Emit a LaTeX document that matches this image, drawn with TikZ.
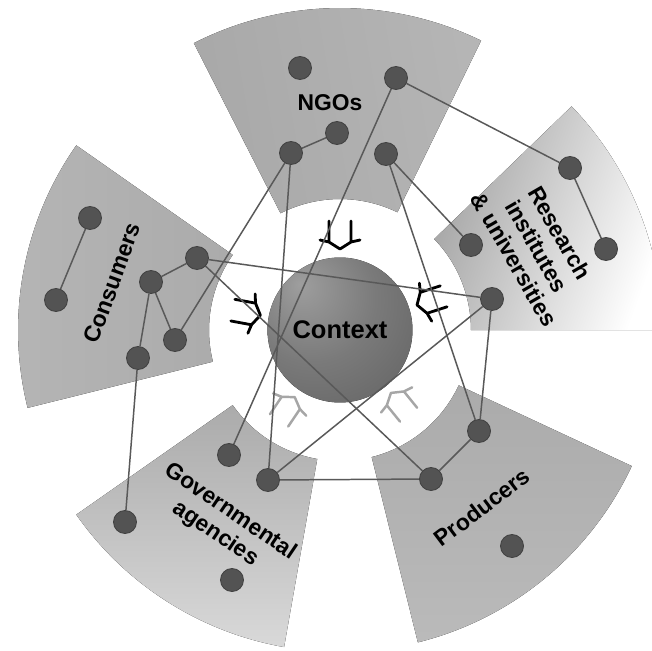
\documentclass[tikz,border=0pt]{standalone}
\usepackage{fontspec}
\setmainfont{Liberation Sans}
\usetikzlibrary{calc}
\usetikzlibrary{positioning}

\definecolor{dotgray}{HTML}{535353}
\definecolor{tiegray}{HTML}{595959}
\definecolor{ballhi}{HTML}{9E9E9E}
\definecolor{ballmid}{HTML}{7A7A7A}
\definecolor{balllow}{HTML}{5C5C5C}
\pgfdeclareradialshading{ctxball}{\pgfpoint{-14bp}{16bp}}{color(0bp)=(ballhi); color(22bp)=(ballmid); color(50bp)=(balllow); color(70bp)=(balllow)}
\pgfdeclarelayer{back}
\pgfdeclarelayer{mid}
\pgfsetlayers{back,mid,main}

\tikzset{
    actor/.style={circle, fill=dotgray, draw=dotgray!80!black, line width=0.5pt, minimum size=0.46cm, inner sep=0pt},
    tie/.style={draw=tiegray, line width=0.85pt},
    group/.style={font=\fontsize{13}{15}\selectfont\bfseries, align=center, inner sep=0pt},
    influence/.pic={
        \draw[line cap=round, line join=round] (-11,14) -- (-11,-7) (11,14) -- (11,-7)
            (-20,-5) -- (-11,-7) -- (0,-14) -- (11,-7) -- (20,-5);
    }
}

\begin{document}
\begin{tikzpicture}[x=0.02cm, y=0.02cm]
    \useasboundingbox (0,0) rectangle (652,650);
    \coordinate (O) at (340,320);

    \begin{pgfonlayer}{back}
    \fill[left color=gray!68, right color=gray!58, shading angle=100] ($(O)+(64:2.62cm)$) arc[start angle=64, end angle=117, radius=2.62cm] -- ($(O)+(117:6.44cm)$) arc[start angle=117, end angle=64, radius=6.44cm] -- cycle;
    \fill[left color=gray!72, right color=white, shading angle=70] ($(O)+(0:2.62cm)$) arc[start angle=0, end angle=44, radius=2.62cm] -- ($(O)+(44:6.44cm)$) arc[start angle=44, end angle=0, radius=6.44cm] -- cycle;
    \fill[left color=gray!58, right color=gray!66] ($(O)+(145:2.62cm)$) arc[start angle=145, end angle=194, radius=2.62cm] -- ($(O)+(194:6.44cm)$) arc[start angle=194, end angle=145, radius=6.44cm] -- cycle;
    \fill[top color=gray!66, bottom color=gray!30] ($(O)+(215:2.62cm)$) arc[start angle=215, end angle=260, radius=2.62cm] -- ($(O)+(260:6.44cm)$) arc[start angle=260, end angle=215, radius=6.44cm] -- cycle;
    \fill[top color=gray!66, bottom color=gray!54] ($(O)+(284:2.62cm)$) arc[start angle=284, end angle=335, radius=2.62cm] -- ($(O)+(335:6.44cm)$) arc[start angle=335, end angle=284, radius=6.44cm] -- cycle;

    \fill[shading=ctxball] (O) circle[radius=1.45cm];

    \pic[black, line width=1.6pt, rotate=0] at ($(O)+(90:1.9cm)$) {influence};
    \pic[black, line width=1.6pt, rotate=-72] at ($(O)+(18:1.9cm)$) {influence};
    \pic[black, line width=1.6pt, rotate=79.5] at ($(O)+(169.5:1.9cm)$) {influence};
    \pic[gray!70, line width=1.4pt, rotate=146] at ($(O)+(236:1.9cm)$) {influence};
    \pic[gray!70, line width=1.4pt, rotate=219] at ($(O)+(309:1.9cm)$) {influence};
    \end{pgfonlayer}

    \node[actor] (N1) at (300,582) {};
    \node[actor] (N2) at (396,572) {};
    \node[actor] (N3) at (337,517) {};
    \node[actor] (N4) at (291,497) {};
    \node[actor] (N5) at (386,496) {};
    \node[actor] (R1) at (570,482) {};
    \node[actor] (R2) at (606,401) {};
    \node[actor] (R3) at (471,405) {};
    \node[actor] (R4) at (492,351) {};
    \node[actor] (C1) at (90,432) {};
    \node[actor] (C2) at (56,350) {};
    \node[actor] (C3) at (197,392) {};
    \node[actor] (C4) at (151,368) {};
    \node[actor] (C5) at (175,310) {};
    \node[actor] (C6) at (138,292) {};
    \node[actor] (G1) at (229,195) {};
    \node[actor] (G2) at (268,170) {};
    \node[actor] (G3) at (125,128) {};
    \node[actor] (G4) at (232,70) {};
    \node[actor] (P1) at (479,219) {};
    \node[actor] (P2) at (431,171) {};
    \node[actor] (P3) at (512,104) {};

    \begin{pgfonlayer}{mid}
    \draw[tie] (N3) -- (N4) (N4) -- (C5) (N4) -- (G2) (N2) -- (R1) (N2) -- (G1);
    \draw[tie] (N5) -- (R3) (N5) -- (P1) (R1) -- (R2) (R4) -- (C3) (R4) -- (G2) (R4) -- (P1);
    \draw[tie] (C1) -- (C2) (C3) -- (C4) (C4) -- (C5) (C4) -- (C6) (C6) -- (G3) (C3) -- (P2);
    \draw[tie] (G2) -- (P2) (P2) -- (P1);
    \end{pgfonlayer}

    \node[font=\fontsize{14.5}{16}\selectfont\bfseries] (ctx) at (O) {Context};
    \node[group] (ngo) at (330,547) {NGOs};
    \node[group, rotate=70] (con) at (112,367) {Consumers};
    \node[group, rotate=-60] (res) at (537,404) {Research\\institutes\\\& universities};
    \node[group, rotate=-34] (gov) at (223,127) {Governmental\\agencies};
    \node[group, rotate=37] (pro) at (482,143) {Producers};
\end{tikzpicture}
\end{document}
